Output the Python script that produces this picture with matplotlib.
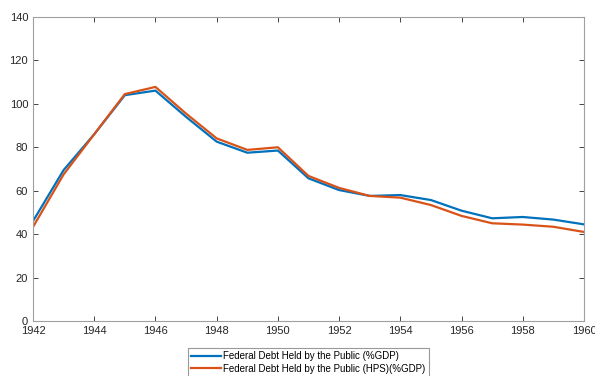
import matplotlib
matplotlib.use("Agg")
import matplotlib.pyplot as plt

plt.rcParams['font.family'] = ['Liberation Sans', 'DejaVu Sans']

years = list(range(1942, 1961))
debt_public = [46.0, 69.5, 86.0, 104.0, 106.1, 94.0, 82.6, 77.5, 78.5, 65.7, 60.3,
               57.6, 58.0, 55.7, 50.8, 47.3, 47.9, 46.7, 44.5]
debt_hps = [43.3, 67.5, 86.0, 104.5, 107.8, 95.5, 84.1, 78.8, 80.0, 66.8, 61.3,
            57.6, 56.8, 53.4, 48.4, 45.0, 44.4, 43.4, 41.0]

fig = plt.figure(figsize=(5.95, 3.76), dpi=100)
ax = fig.add_axes([33/595, 1-321/376, (584-33)/595, (321-17)/376])

ax.plot(years, debt_public, color='#0072BD', lw=1.6, label='Federal Debt Held by the Public (%GDP)')
ax.plot(years, debt_hps, color='#D95319', lw=1.6, label='Federal Debt Held by the Public (HPS)(%GDP)')

ax.set_xlim(1942, 1960)
ax.set_ylim(0, 140)
ax.set_xticks(range(1942, 1961, 2))
ax.set_yticks(range(0, 141, 20))
ax.tick_params(direction='in', top=True, right=True, labelsize=8, colors='#262626',
               length=3.5, width=0.6)
for s in ax.spines.values():
    s.set_color('#a0a0a0')
    s.set_linewidth(0.8)

# legend sits under the axes, centred a bit right of middle
leg = ax.legend(loc='upper center', bbox_to_anchor=(0.5185, 1-348/376), bbox_transform=fig.transFigure,
                fontsize=7, frameon=True, fancybox=False, handlelength=3.0, borderpad=0.3,
                labelspacing=0.3, handletextpad=0.3, borderaxespad=0)
leg.get_frame().set_edgecolor('#808080')
leg.get_frame().set_linewidth(0.8)

fig.savefig('out.png', dpi=100)
